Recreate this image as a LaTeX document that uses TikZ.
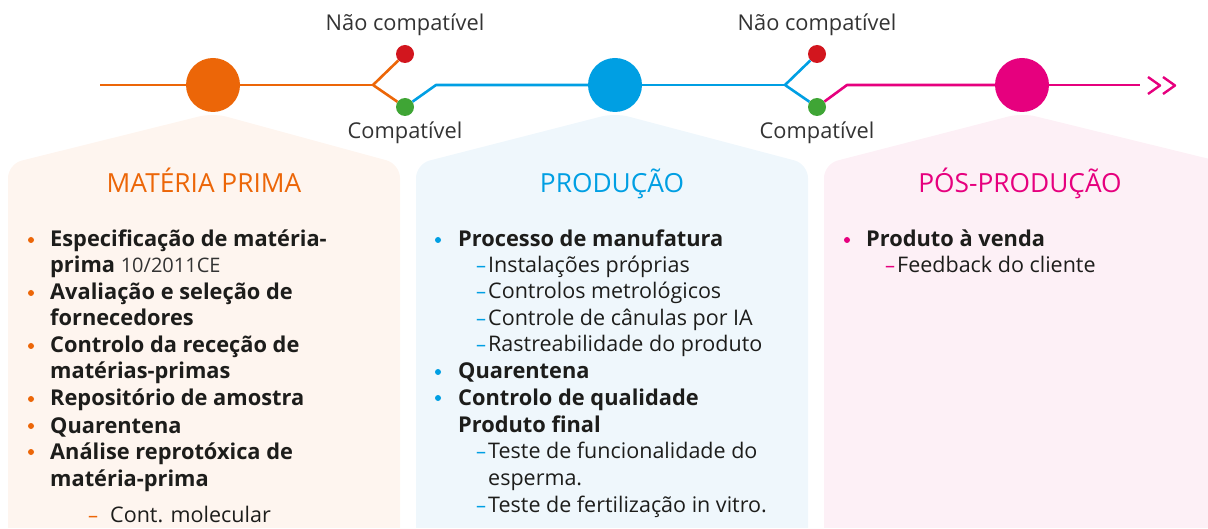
\documentclass[tikz,border=0pt]{standalone}
\usepackage{fontspec}
\setmainfont{Open Sans}
\definecolor{cOr}{HTML}{EC6608}
\definecolor{cBl}{HTML}{009FE3}
\definecolor{cPk}{HTML}{E6007E}
\definecolor{cRd}{HTML}{D2161E}
\definecolor{cGn}{HTML}{3FA535}
\definecolor{fOr}{HTML}{FEF5EF}
\definecolor{fBl}{HTML}{EFF7FC}
\definecolor{fPk}{HTML}{FDF0F6}
\definecolor{txt}{HTML}{1D1D1B}
\definecolor{lbl}{HTML}{333333}
\begin{document}
\begin{tikzpicture}[x=1pt,y=-1pt,
  item/.style={anchor=base west, inner sep=0pt, font=\fontsize{21.8}{26}\selectfont\bfseries, text=txt},
  sub/.style={anchor=base west, inner sep=0pt, font=\fontsize{21.5}{26}\selectfont, text=txt},
  title/.style={anchor=base, inner sep=0pt, font=\fontsize{26.3}{30}\selectfont},
  lab/.style={anchor=base, inner sep=0pt, font=\fontsize{21.8}{26}\selectfont, text=lbl},
  bigdot/.style={circle, minimum size=54pt, inner sep=0pt},
  smalldot/.style={circle, minimum size=18pt, inner sep=0pt},
  track/.style={line width=2.6pt, line join=round},
  dashmark/.style={anchor=base west, inner sep=0pt, font=\fontsize{20}{24}\selectfont}
]
\useasboundingbox (0,0) rectangle (1208,529);
% panels
\fill[fOr] (8,540) [rounded corners=14pt] -- (8,164) -- (213,113) -- (400,164) -- (400,527) [rounded corners=0pt] -- (400,540) -- cycle;
\fill[fBl] (416,540) [rounded corners=14pt] -- (416,164) -- (615,113) -- (808,164) -- (808,527) [rounded corners=0pt] -- (808,540) -- cycle;
\fill[fPk] (824,540) [rounded corners=14pt] -- (824,164) -- (1022,113) -- (1230,164) -- (1230,540) -- cycle;
\fill[white] (0,528) rectangle (1208,540);

% timeline nodes
\coordinate (start) at (100,85);
\node[bigdot, fill=cOr] (c1) at (213,85) {};
\coordinate (b1) at (373,85);
\node[smalldot, fill=cRd] (r1) at (405,54) {};
\node[smalldot, fill=cGn] (g1) at (405,107) {};
\coordinate (j1) at (436,85);
\node[bigdot, fill=cBl] (c2) at (615,85) {};
\coordinate (b2) at (785,85);
\node[smalldot, fill=cRd] (r2) at (817,54) {};
\node[smalldot, fill=cGn] (g2) at (817,107) {};
\coordinate (j2) at (847,85);
\node[bigdot, fill=cPk] (c3) at (1022,85) {};
\coordinate (e3) at (1140,85);

\draw[track, cOr] (start) -- (c1);
\draw[track, cOr] (c1) -- (b1);
\draw[track, cOr] (b1) -- (r1);
\draw[track, cOr] (b1) -- (g1);
\draw[track, cBl] (g1) -- (j1) -- (c2);
\draw[track, cBl] (c2) -- (b2);
\draw[track, cBl] (b2) -- (r2);
\draw[track, cBl] (b2) -- (g2);
\draw[track, cPk] (g2) -- (j2) -- (c3);
\draw[track, cPk] (c3) -- (e3);
% chevrons
\coordinate (v1a) at (1148,77); \coordinate (v1b) at (1160,85.5); \coordinate (v1c) at (1148,94);
\coordinate (v2a) at (1163,77); \coordinate (v2b) at (1175,85.5); \coordinate (v2c) at (1163,94);
\draw[track, cPk, line width=2.4pt] (v1a) -- (v1b) -- (v1c);
\draw[track, cPk, line width=2.4pt] (v2a) -- (v2b) -- (v2c);

% labels
\node[lab] (nc1) at (405,31) {Não compatível};
\node[lab] (cp1) at (405,139) {Compatível};
\node[lab] (nc2) at (817,31) {Não compatível};
\node[lab] (cp2) at (817,139) {Compatível};

% titles
\node[title, text=cOr] (t1) at (204,193) {MATÉRIA PRIMA};
\node[title, text=cBl] (t2) at (612,193) {PRODUÇÃO};
\node[title, text=cPk] (t3) at (1020,193) {PÓS-PRODUÇÃO};

% panel 1
\foreach \yy in {240,293,346,399,426,452} \fill[cOr] (31,\yy) circle (3pt);
\node[item] (a1) at (50,247) {Especificação de matéria-};
\node[item] (a2) at (50,273) {prima \mdseries\fontsize{20}{24}\selectfont\color{lbl}10/2011CE};
\node[item] (a3) at (50,300) {Avaliação e seleção de};
\node[item] (a4) at (50,326) {fornecedores};
\node[item] (a5) at (50,353) {Controlo da receção de};
\node[item] (a6) at (50,379) {matérias-primas};
\node[item] (a7) at (50,406) {Repositório de amostra};
\node[item] (a8) at (50,433) {Quarentena};
\node[item] (a9) at (50,459) {Análise reprotóxica de};
\node[item] (a10) at (50,486) {matéria-prima};
\node[dashmark, text=cOr] (ad1) at (88,522) {–};
\node[sub] (a11) at (110,522) {Cont. molecular};

% panel 2
\foreach \yy in {240,372,398} \fill[cBl] (438,\yy) circle (3pt);
\node[item] (p1) at (458,247) {Processo de manufatura};
\node[dashmark, text=cBl] (pd1) at (476,273) {–};
\node[sub] (p2) at (488,273) {Instalações próprias};
\node[dashmark, text=cBl] (pd2) at (476,299) {–};
\node[sub] (p3) at (488,299) {Controlos metrológicos};
\node[dashmark, text=cBl] (pd3) at (476,326) {–};
\node[sub] (p4) at (488,326) {Controle de cânulas por IA};
\node[dashmark, text=cBl] (pd4) at (476,352) {–};
\node[sub] (p5) at (488,352) {Rastreabilidade do produto};
\node[item] (p6) at (458,379) {Quarentena};
\node[item] (p7) at (458,406) {Controlo de qualidade};
\node[item] (p8) at (458,432) {Produto final};
\node[dashmark, text=cBl] (pd5) at (476,458) {–};
\node[sub] (p9) at (488,458) {Teste de funcionalidade do};
\node[sub] (p10) at (488,485) {esperma.};
\node[dashmark, text=cBl] (pd6) at (476,512) {–};
\node[sub] (p11) at (488,512) {Teste de fertilização in vitro.};

% panel 3
\fill[cPk] (847,240) circle (3pt);
\node[item] (q1) at (866,247) {Produto à venda};
\node[dashmark, text=cPk] (qd1) at (885,273) {–};
\node[sub] (q2) at (897,273) {Feedback do cliente};
\end{tikzpicture}
\end{document}
